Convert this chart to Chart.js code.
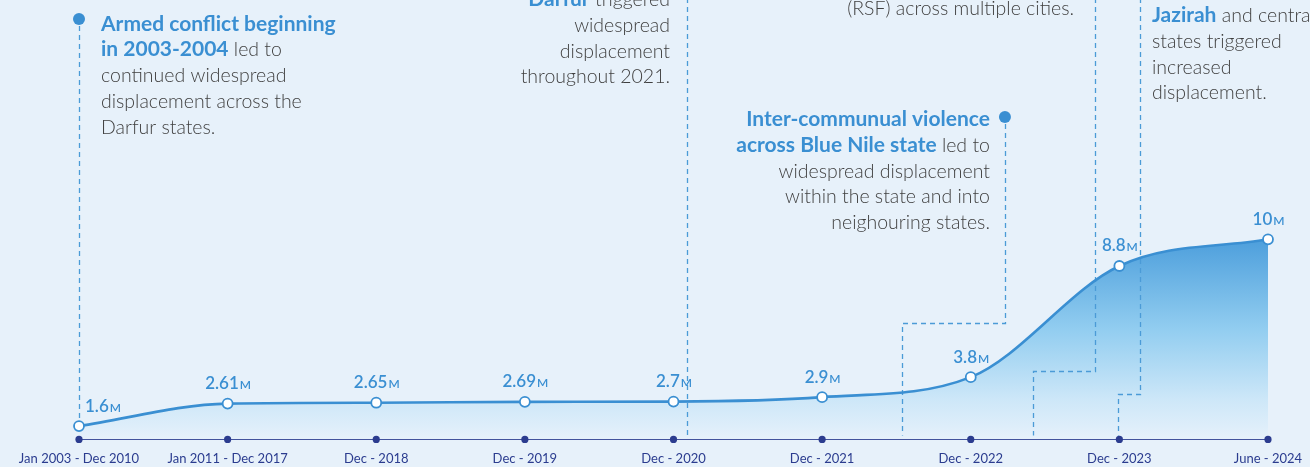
<!DOCTYPE html>
<html><head><meta charset="utf-8">
<script src="https://cdn.jsdelivr.net/npm/chart.js@4/dist/chart.umd.min.js"></script>
<style>
html,body{margin:0;padding:0;background:#e7f1fa;overflow:hidden;}
#wrap{width:1310px;height:467px;position:relative;}
canvas{display:block;}
</style></head><body>
<div id="wrap"><canvas id="c" width="1310" height="467"></canvas></div>
<script>
// ---- data ----
const categories = ['Jan 2003 - Dec 2010','Jan 2011 - Dec 2017','Dec - 2018','Dec - 2019','Dec - 2020','Dec - 2021','Dec - 2022','Dec - 2023','June - 2024'];
const idpMillions = [1.6, 2.61, 2.65, 2.69, 2.7, 2.9, 3.8, 8.8, 10];
const valueLabels = ['1.6','2.61','2.65','2.69','2.7','2.9','3.8','8.8','10'];
const valueUnit = 'M';

// ---- annotation texts (b = bold highlight, r = regular) ----
const noteConflict = [
  [['b','Armed conflict beginning']],
  [['b','in 2003-2004'],['r',' led to']],
  [['r','continued widespread']],
  [['r','displacement across the']],
  [['r','Darfur states.']]
];
const noteDarfur = [
  [['b','Darfur'],['r',' triggered']],
  [['r','widespread']],
  [['r','displacement']],
  [['r','throughout 2021.']]
];
const noteRSF = [
  [['r','(RSF) across multiple cities.']]
];
const noteJazirah = [
  [['b','Jazirah'],['r',' and central']],
  [['r','states triggered']],
  [['r','increased']],
  [['r','displacement.']]
];
const noteBlueNile = [
  [['b','Inter-communual violence']],
  [['b','across Blue Nile state'],['r',' led to']],
  [['r','widespread displacement']],
  [['r','within the state and into']],
  [['r','neighouring states.']]
];

// ---- layout of annotations (category index positions, pixel offsets) ----
const annotations = [
  {dot:[0,19], path:[[0,26],[0,'pt0']], textAt:[0,22], align:'left', y0:30.5, lines:noteConflict},
  {path:[[4.091,-2],[4.091,'axis']], textAt:[4.091,-17], align:'right', y0:6, lines:noteDarfur},
  {path:[[6.836,-2],[6.836,371],[6.419,371],[6.419,'axis']], textAt:[6.836,-21], align:'right', y0:15, lines:noteRSF},
  {path:[[7.142,-2],[7.142,394],[6.993,394],[6.993,'axis']], textAt:[7.142,11.5], align:'left', y0:22, lines:noteJazirah},
  {dot:[6.230,117], path:[[6.230,124],[6.230,323],[5.537,323],[5.537,'axis']], textAt:[6.230,-15], align:'right', y0:126, lines:noteBlueNile}
];

const BG = '#e7f1fa';
const BLUE = '#3a8fd2';
const NAVY = '#2b3c8f';
const GRAY = '#3f3f3f';
const FONT = 'Lato, "Open Sans", sans-serif';
const BOLD_FONT = '700 21px ' + FONT;
const REG_FONT = '300 19.5px ' + FONT;
const LINE_STEP = 25.8;

function idxToX(chart, i){
  const xs = chart.scales.x;
  const a = Math.floor(i), f = i - a;
  const p0 = xs.getPixelForValue(a);
  if (f === 0) return p0;
  return p0 + (xs.getPixelForValue(a+1) - p0) * f;
}

const decorPlugin = {
  id:'decor',
  beforeDraw(chart){
    const c = chart.ctx; c.save(); c.fillStyle = BG; c.fillRect(0,0,chart.width,chart.height); c.restore();
  },
  beforeDatasetsDraw(chart){
    const c = chart.ctx; const area = chart.chartArea;
    const meta = chart.getDatasetMeta(0);
    c.save();
    c.strokeStyle = '#4b9bd7'; c.lineWidth = 1.3; c.setLineDash([5,4]);
    annotations.forEach(a=>{
      c.beginPath();
      a.path.forEach((p,k)=>{
        const x = idxToX(chart, p[0]);
        let y = p[1];
        if (y === 'axis') y = area.bottom - 4;
        if (y === 'pt0') y = meta.data[0].y - 6;
        if (k===0) c.moveTo(Math.round(x)+0.5, y); else c.lineTo(Math.round(x)+0.5, Math.round(y)+0.5);
      });
      c.stroke();
    });
    c.restore();
  },
  afterDatasetsDraw(chart){
    const c = chart.ctx; const area = chart.chartArea;
    const xs = chart.scales.x;
    const meta = chart.getDatasetMeta(0);
    c.save();
    // axis dots
    c.fillStyle = NAVY;
    categories.forEach((_,i)=>{
      c.beginPath(); c.arc(xs.getPixelForValue(i), area.bottom, 3.6, 0, Math.PI*2); c.fill();
    });
    // value labels
    c.textBaseline = 'alphabetic';
    meta.data.forEach((pt,i)=>{
      const numFont = '600 17px ' + FONT, unitFont = '600 12px ' + FONT;
      c.font = numFont; const wn = c.measureText(valueLabels[i]).width;
      c.font = unitFont; const wu = c.measureText(valueUnit).width;
      let x = (i===0) ? pt.x + 6 : pt.x - (wn+wu)/2;
      const y = pt.y - 14.5;
      c.fillStyle = BLUE;
      c.font = numFont; c.fillText(valueLabels[i], x, y);
      c.font = unitFont; c.fillText(valueUnit, x + wn + 1, y);
    });
    // annotation dots and text
    annotations.forEach(a=>{
      if (a.dot){
        c.fillStyle = BLUE; c.beginPath();
        c.arc(idxToX(chart,a.dot[0]), a.dot[1], 6, 0, Math.PI*2); c.fill();
      }
      const ax = idxToX(chart, a.textAt[0]) + a.textAt[1];
      a.lines.forEach((runs,li)=>{
        const y = a.y0 + li*LINE_STEP;
        const widths = runs.map(r=>{ c.font = r[0]==='b' ? BOLD_FONT : REG_FONT; return c.measureText(r[1]).width; });
        const total = widths.reduce((s,w)=>s+w,0);
        let x = a.align === 'left' ? ax : ax - total;
        runs.forEach((r,k)=>{
          c.font = r[0]==='b' ? BOLD_FONT : REG_FONT;
          c.fillStyle = r[0]==='b' ? BLUE : GRAY;
          c.fillText(r[1], x, y);
          x += widths[k];
        });
      });
    });
    c.restore();
  }
};

new Chart(document.getElementById('c'), {
  type:'line',
  data:{
    labels: categories,
    datasets:[{
      label:'IDPs (millions)',
      data: idpMillions,
      borderColor: BLUE,
      borderWidth: 2.6,
      cubicInterpolationMode:'monotone',
      pointRadius: 5,
      pointBorderWidth: 1.8,
      pointBackgroundColor:'#ffffff',
      pointBorderColor: BLUE,
      fill:'start',
      backgroundColor:(ctx)=>{
        const chart = ctx.chart; const area = chart.chartArea;
        if (!area) return 'rgba(0,0,0,0)';
        const top = chart.scales.y.getPixelForValue(Math.max(...idpMillions));
        const g = chart.ctx.createLinearGradient(0, top, 0, area.bottom);
        g.addColorStop(0, '#4d9fdc');
        g.addColorStop(0.45, '#92cdf0');
        g.addColorStop(0.8, '#cde7f8');
        g.addColorStop(1, '#e6f1fb');
        return g;
      }
    }]
  },
  options:{
    responsive:false,
    animation:false,
    devicePixelRatio:1,
    layout:{padding:{left:79, right:42, top:17, bottom:0}},
    plugins:{legend:{display:false}, tooltip:{enabled:false}, filler:{drawTime:'beforeDatasetsDraw'}},
    scales:{
      x:{
        offset:false,
        grid:{display:false, drawTicks:true, tickLength:12},
        border:{display:true, color:NAVY, width:2},
        ticks:{color:NAVY, font:{family:FONT, size:13}, padding:0, autoSkip:false, maxRotation:0}
      },
      y:{display:false, min:1, max:20}
    }
  },
  plugins:[decorPlugin]
});
</script>
</body></html>
